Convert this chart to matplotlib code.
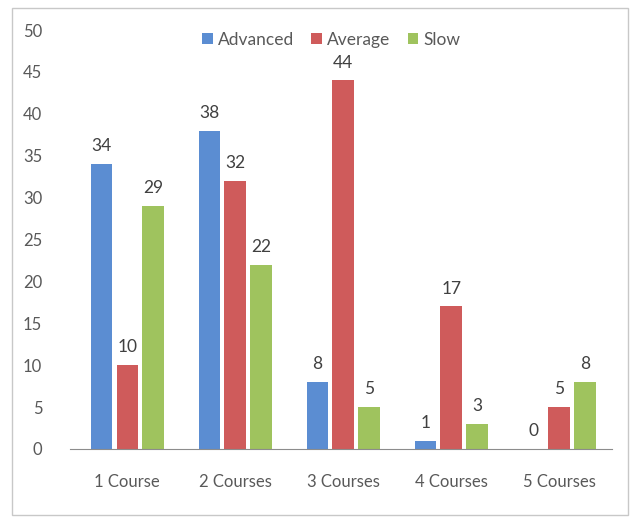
import matplotlib.pyplot as plt
import numpy as np
from matplotlib.patches import Rectangle

categories = ["1 Course", "2 Courses", "3 Courses", "4 Courses", "5 Courses"]
advanced = [34, 38, 8, 1, 0]
average = [10, 32, 44, 17, 5]
slow = [29, 22, 5, 3, 8]

series = [("Advanced", advanced, "#5B8DD2"),
          ("Average", average, "#CF5B5B"),
          ("Slow", slow, "#9FC35E")]

plt.rcParams['font.family'] = ['Lato', 'DejaVu Sans']

fig = plt.figure(figsize=(6.37, 5.22), dpi=100)
fig.patches.append(Rectangle((0.019, 0.013), 0.967, 0.972, transform=fig.transFigure,
                             fill=False, edgecolor="#c8c8c8", linewidth=1.0))
ax = fig.add_axes([0.110, 0.140, 0.851, 0.8025])

x = np.arange(len(categories))
width = 0.2
step = 0.24
for i, (name, vals, col) in enumerate(series):
    pos = x + (i - 1) * step
    bars = ax.bar(pos, vals, width, color=col, label=name)
    for b, v in zip(bars, vals):
        ax.annotate(str(v), (b.get_x() + b.get_width() / 2, v),
                    xytext=(0, 7), textcoords="offset points",
                    ha="center", va="bottom", fontsize=12.5, color="#404040")

ax.set_ylim(0, 50)
ax.set_xlim(-0.53, 4.49)
ax.set_yticks(range(0, 51, 5))
ax.set_xticks(x)
ax.set_xticklabels(categories)
for s in ["top", "right", "left"]:
    ax.spines[s].set_visible(False)
ax.spines["bottom"].set_color("#8c8c8c")
ax.tick_params(axis="y", length=0, pad=20, labelsize=12, labelcolor="#595959")
ax.tick_params(axis="x", length=0, pad=18, labelsize=12, labelcolor="#595959")

fig.legend(loc="center", bbox_to_anchor=(0.52, 0.924), ncol=3, frameon=False,
           fontsize=12.5, handlelength=0.6, handleheight=0.6, handletextpad=0.3,
           columnspacing=1.0, labelcolor="#595959")

plt.savefig("out.png", dpi=100)
